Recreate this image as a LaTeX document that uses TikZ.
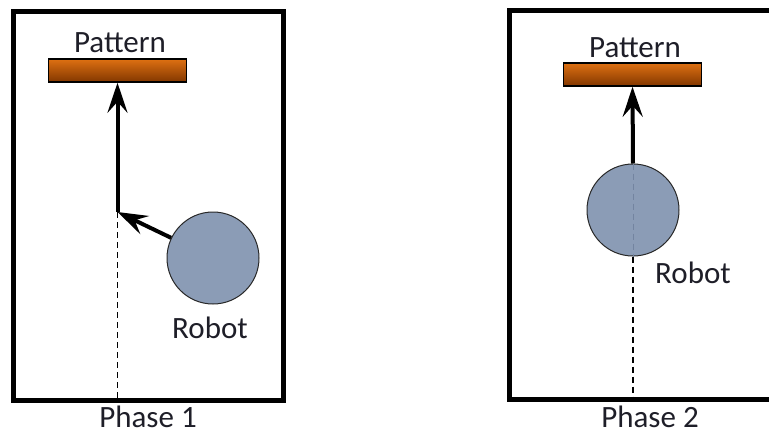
\documentclass[tikz,border=0pt]{standalone}
\usepackage{fontspec}
\setmainfont{Carlito}
\usetikzlibrary{arrows.meta}
\definecolor{robotfill}{RGB}{139,156,182}
\definecolor{robotline}{RGB}{40,40,40}
\definecolor{pattop}{RGB}{222,112,18}
\definecolor{patbot}{RGB}{130,55,0}
\definecolor{txt}{RGB}{30,30,40}
\definecolor{innerdash}{RGB}{115,132,160}
\tikzset{
  frame/.style={draw=black, line width=5pt},
  patternbar/.style={rectangle, draw=black, line width=1.5pt, minimum width=138pt, minimum height=23pt, inner sep=0pt, top color=pattop, bottom color=patbot, shading angle=0},
  robotdisk/.style={circle, draw=robotline, line width=1pt, fill=robotfill, minimum size=92pt, inner sep=0pt},
  lbl/.style={font=\fontsize{31}{34}\selectfont, text=txt, inner sep=0pt, anchor=base},
  movearrow/.style={line width=4pt, -{Stealth[length=30pt,width=20pt,inset=11pt]}},
  guide/.style={line width=1.4pt, dash pattern=on 6pt off 4pt},
}
\begin{document}
\begin{tikzpicture}[x=1pt,y=-1pt]
\useasboundingbox (0,0) rectangle (769,434);
\clip (0,0) rectangle (769,434);
% Phase 1
\draw[frame] (13.5,11.5) rectangle (283.5,400.5);
\node[patternbar] (pat1) at (117.5,70.5) {};
\node[lbl] (pat1lbl) at (120,52) {Pattern};
\coordinate (corner1) at (117.5,212);
\coordinate (floor1) at (117.5,400);
\draw[guide] (corner1) -- (floor1);
\node[robotdisk] (robot1) at (213,258) {};
\node[lbl] (robot1lbl) at (210,338) {Robot};
\draw[movearrow] (corner1) -- (pat1.south);
\draw[movearrow] (robot1) -- (corner1);
\node[lbl] (phase1) at (148,427) {Phase 1};
% Phase 2
\draw[frame] (509.5,10.5) rectangle (790,399.5);
\node[patternbar] (pat2) at (632.5,74.5) {};
\node[lbl] (pat2lbl) at (635,57) {Pattern};
\node[robotdisk] (robot2) at (633,210) {};
\coordinate (floor2) at (633,399);
\draw[guide, draw=innerdash, line width=0.8pt] (robot2.north) -- (robot2.south);
\draw[guide] (robot2.south) -- (floor2);
\draw[movearrow] (robot2.north) -- (pat2.south);
\node[lbl] (robot2lbl) at (693,283) {Robot};
\node[lbl] (phase2) at (650,427) {Phase 2};
\end{tikzpicture}
\end{document}
